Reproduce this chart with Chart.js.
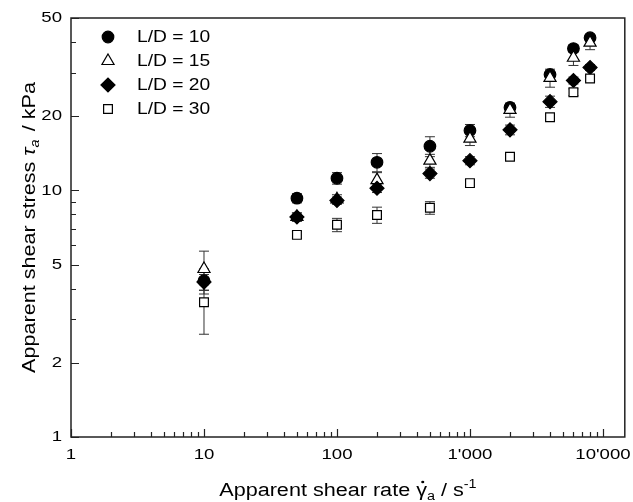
<!DOCTYPE html>
<html>
<head>
<meta charset="utf-8">
<script src="https://cdn.jsdelivr.net/npm/chart.js@4/dist/chart.umd.min.js"></script>
<style>
  html, body { margin: 0; background: #fff; }
  #wrap { width: 633px; height: 502px; position: relative; }
</style>
</head>
<body>
<div id="wrap"><canvas id="chart"></canvas></div>
<script>
// shear rate (1/s) and apparent shear stress (kPa) per L/D ratio
const shearRates = [10, 50, 100, 200, 500, 1000, 2000, 4000, 6000, 8000];
const seriesNames = ['L/D = 10', 'L/D = 15', 'L/D = 20', 'L/D = 30'];
const stressLD10 = [4.3, 9.3, 11.2, 13.0, 15.1, 17.5, 21.7, 29.5, 37.6, 41.6];
const stressLD15 = [4.8, 7.8, 9.2, 11.0, 13.2, 16.2, 21.2, 28.6, 34.5, 39.7];
const stressLD20 = [4.25, 7.8, 9.1, 10.2, 11.7, 13.2, 17.6, 22.9, 27.9, 31.5];
const stressLD30 = [3.52, 6.6, 7.25, 7.95, 8.5, 10.7, 13.7, 19.8, 25.0, 28.4];
const errLD10 = [0.5, 0.4, 0.6, 1.1, 1.4, 1.0, 0.7, 0.8, 1.3, 1.0];
const errLD15 = [0.87, 0.3, 0.4, 0.8, 0.8, 1.0, 1.4, 2.4, 2.4, 2.5];
const errLD20 = [0.31, 0.3, 0.3, 0.4, 0.5, 0.5, 0.8, 1.2, 0.9, 0.9];
const errLD30 = [0.91, 0.2, 0.45, 0.6, 0.5, 0.35, 0.3, 0.6, 0.8, 0.7];
const xTickValues = [1, 10, 100, 1000, 10000];
const xTickLabels = ['1', '10', '100', "1'000", "10'000"];
const yTickValues = [1, 2, 5, 10, 20, 50];
const yTickLabels = ['1', '2', '5', '10', '20', '50'];

const allStress = [stressLD10, stressLD15, stressLD20, stressLD30];
const allErr = [errLD10, errLD15, errLD20, errLD30];

const markers = [
  { pointStyle: 'circle', radius: 5.8, fill: '#000' },
  { pointStyle: 'triangle', radius: 7, fill: '#fff' },
  { pointStyle: 'rectRot', radius: 7, fill: '#000' },
  { pointStyle: 'rect', radius: 6.2, fill: '#fff' }
];

const FONT = "'Liberation Sans', Arial, sans-serif";
const SX = 1.2; // reference text is a bit wide

function runsWidth(ctx, runs) {
  let w = 0;
  runs.forEach(r => { ctx.font = r.font; w += ctx.measureText(r.t).width + (r.gap || 0); });
  return w;
}

function drawRuns(ctx, runs, x, y, align) {
  const w = runsWidth(ctx, runs) * SX;
  const x0 = align === 'center' ? x - w / 2 : align === 'right' ? x - w : x;
  ctx.save();
  ctx.translate(x0, y);
  ctx.scale(SX, 1);
  let px = 0;
  runs.forEach(r => {
    ctx.font = r.font;
    const tw = ctx.measureText(r.t).width;
    ctx.fillText(r.t, px, r.dy || 0);
    if (r.dot) {
      ctx.beginPath();
      ctx.arc(px + tw / 2 + 1, (r.dy || 0) - 14, 1.3, 0, Math.PI * 2);
      ctx.fill();
    }
    px += tw + (r.gap || 0);
  });
  ctx.restore();
}

const errorBars = {
  id: 'errorBars',
  beforeDatasetsDraw(chart) {
    const ctx = chart.ctx;
    const xs = chart.scales.x, ys = chart.scales.y;
    ctx.save();
    ctx.strokeStyle = '#333';
    ctx.lineWidth = 1;
    allStress.forEach((vals, s) => {
      vals.forEach((v, i) => {
        const e = allErr[s][i];
        const px = xs.getPixelForValue(shearRates[i]);
        const top = ys.getPixelForValue(v + e);
        const bot = ys.getPixelForValue(v - e);
        ctx.beginPath();
        ctx.moveTo(px, top); ctx.lineTo(px, bot);
        ctx.moveTo(px - 5, top); ctx.lineTo(px + 5, top);
        ctx.moveTo(px - 5, bot); ctx.lineTo(px + 5, bot);
        ctx.stroke();
      });
    });
    ctx.restore();
  }
};

const frameAndText = {
  id: 'frameAndText',
  afterDraw(chart) {
    const ctx = chart.ctx;
    const a = chart.chartArea;
    const xs = chart.scales.x, ys = chart.scales.y;
    ctx.save();
    ctx.strokeStyle = '#222';
    ctx.fillStyle = '#000';
    ctx.lineWidth = 1.5;
    ctx.strokeRect(a.left, a.top, a.right - a.left, a.bottom - a.top);

    // inward ticks, bottom and left only
    ctx.lineWidth = 1.2;
    ctx.beginPath();
    for (let d = 1; d <= 10000; d *= 10) {
      for (let m = 1; m <= 9; m++) {
        const v = d * m;
        if (v > xs.max) break;
        const px = Math.round(xs.getPixelForValue(v)) + 0.5;
        const len = m === 1 ? 8 : 5;
        ctx.moveTo(px, a.bottom); ctx.lineTo(px, a.bottom - len);
      }
    }
    for (let d = 1; d <= 10; d *= 10) {
      for (let m = 1; m <= 9; m++) {
        const v = d * m;
        if (v > ys.max) break;
        const py = Math.round(ys.getPixelForValue(v)) + 0.5;
        const len = (m === 1 || yTickValues.includes(v)) ? 8 : 5;
        ctx.moveTo(a.left, py); ctx.lineTo(a.left + len, py);
      }
    }
    ctx.stroke();

    // tick labels
    const tickFont = '15.5px ' + FONT;
    ctx.textBaseline = 'middle';
    xTickValues.forEach((v, i) => {
      drawRuns(ctx, [{ t: xTickLabels[i], font: tickFont }], xs.getPixelForValue(v), a.bottom + 18, 'center');
    });
    yTickValues.forEach((v, i) => {
      drawRuns(ctx, [{ t: yTickLabels[i], font: tickFont }], a.left - 9, ys.getPixelForValue(v), 'right');
    });

    // legend
    const legFont = '16px ' + FONT;
    seriesNames.forEach((name, i) => {
      const y = 37 + i * 24;
      ctx.fillStyle = markers[i].fill;
      ctx.strokeStyle = '#000';
      ctx.lineWidth = 1.2;
      Chart.helpers.drawPoint(ctx, { pointStyle: markers[i].pointStyle, radius: markers[i].radius, borderWidth: 1.2, rotation: 0 }, 108, y);
      ctx.fillStyle = '#000';
      drawRuns(ctx, [{ t: name, font: legFont }], 137, y + 1, 'left');
    });

    // axis titles
    ctx.textBaseline = 'alphabetic';
    const tf = '18px ' + FONT, tfi = 'italic 18px ' + FONT;
    const sf = '12px ' + FONT, sfi = 'italic 12px ' + FONT;
    drawRuns(ctx, [
      { t: 'Apparent shear rate ', font: tf },
      { t: 'γ', font: tf, dot: true },
      { t: 'a', font: sf, dy: 4 },
      { t: ' / s', font: tf },
      { t: '-1', font: sf, dy: -8 }
    ], (a.left + a.right) / 2, 496, 'center');

    ctx.save();
    ctx.translate(35, (a.top + a.bottom) / 2);
    ctx.rotate(-Math.PI / 2);
    drawRuns(ctx, [
      { t: 'Apparent shear stress ', font: tf },
      { t: 'τ', font: tfi },
      { t: 'a', font: sfi, dy: 4, gap: 2 },
      { t: ' / kPa', font: tf }
    ], 0, 0, 'center');
    ctx.restore();
    ctx.restore();
  }
};

const datasets = allStress.map((vals, s) => ({
  label: seriesNames[s],
  data: shearRates.map((x, i) => ({ x: x, y: vals[i] })),
  showLine: false,
  pointStyle: markers[s].pointStyle,
  pointRadius: markers[s].radius,
  pointBackgroundColor: markers[s].fill,
  pointBorderColor: '#000',
  pointBorderWidth: 1.2,
  order: 3 - s
}));

new Chart(document.getElementById('chart'), {
  type: 'scatter',
  data: { datasets: datasets },
  options: {
    responsive: true,
    maintainAspectRatio: false,
    animation: false,
    layout: { padding: { top: 18, right: 4, left: 0, bottom: 0 } },
    plugins: { legend: { display: false }, tooltip: { enabled: false } },
    scales: {
      x: {
        type: 'logarithmic', min: 1, max: 14600,
        grid: { display: false }, border: { display: false },
        ticks: { display: false },
        afterFit: s => { s.height = 65; }
      },
      y: {
        type: 'logarithmic', min: 1, max: 50,
        grid: { display: false }, border: { display: false },
        ticks: { display: false },
        afterFit: s => { s.width = 71; }
      }
    }
  },
  plugins: [errorBars, frameAndText]
});
</script>
</body>
</html>
